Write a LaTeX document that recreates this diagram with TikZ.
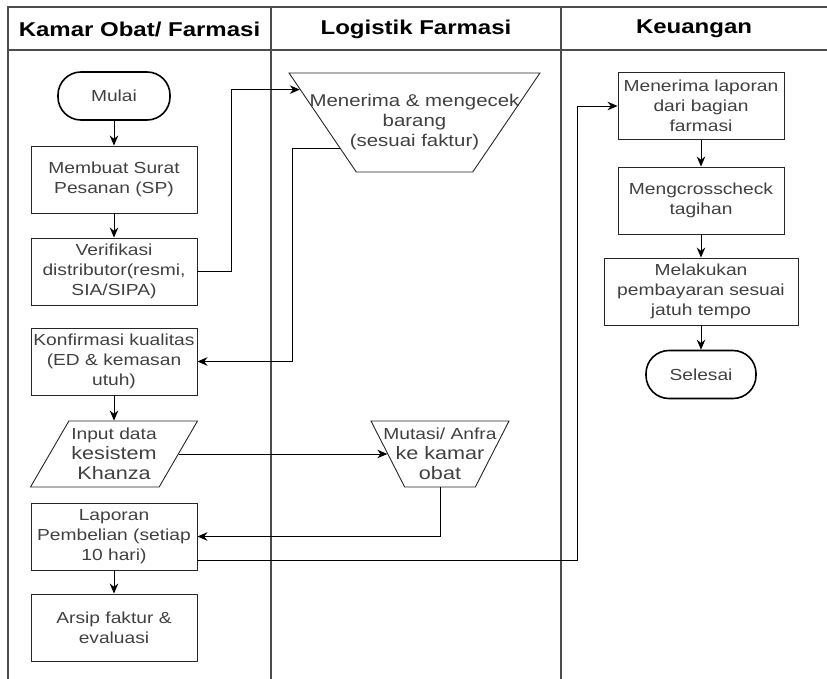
\documentclass[tikz,border=0pt]{standalone}
\usepackage{fontspec}
\setmainfont{Liberation Sans}[FakeStretch=1.2]
\usetikzlibrary{shapes.geometric,arrows.meta}

\begin{document}
\begin{tikzpicture}
[x=1pt,y=-1pt,%
  every node/.style={font=\fontsize{16pt}{20pt}\selectfont},%
  lane/.style={draw=black!70,line width=1.3pt},%
  heading/.style={font=\fontsize{20pt}{24pt}\selectfont\bfseries},%
  proc/.style={draw=black!85,line width=0.9pt,minimum width=166pt,minimum height=67pt,align=center,text=black!75,inner sep=1pt},%
  term/.style={draw,line width=1.6pt,rounded corners=23pt,minimum width=112pt,minimum height=48pt,text=black!75},%
  manop/.style={draw=black!85,line width=0.9pt,trapezium,trapezium stretches=true,shape border rotate=180,inner sep=3pt},%
  inbox/.style={draw=black!85,line width=0.9pt,trapezium,trapezium left angle=67,trapezium right angle=113,trapezium stretches=true,minimum width=167pt,minimum height=66pt,inner sep=3pt},%
  lbl/.style={align=center,text=black!75,inner sep=0pt},%
  arr/.style={-{Stealth[length=10pt,width=8.5pt]},line width=0.9pt}]
\useasboundingbox (0,0) rectangle (827,679);
\draw[lane] (8,679) -- (8,7) -- (827,7);
\draw[lane] (8,50) -- (827,50);
\draw[lane] (271,7) -- (271,679);
\draw[lane] (561,7) -- (561,679);
\node[heading] (hKamar) at (139.5,29) {Kamar Obat/ Farmasi};
\node[heading] (hLogistik) at (416,29) {Logistik Farmasi};
\node[heading] (hKeuangan) at (694,29) {Keuangan};

\node[term] (start) at (114,96) {Mulai};
\node[proc] (sp) at (114,179.5) {Membuat Surat\\Pesanan (SP)};
\node[proc] (verif) at (114,271.5) {Verifikasi\\distributor(resmi,\\SIA/SIPA)};
\node[proc] (kual) at (114,361.5) {Konfirmasi kualitas\\(ED \& kemasan\\utuh)};
\node[inbox,label={[lbl,font=\fontsize{18pt}{20pt}\selectfont]center:{{\fontsize{16pt}{20pt}\selectfont Input data}\\kesistem\\Khanza}}] (input) at (114,454) {};
\node[proc] (lapor) at (114,536.5) {Laporan\\Pembelian (setiap\\10 hari)};
\node[proc] (arsip) at (114,627.5) {Arsip faktur \&\\evaluasi};

\node[manop,trapezium angle=60,minimum width=251pt,minimum height=99pt,label={[lbl,font=\fontsize{17pt}{20pt}\selectfont]center:{Menerima \& mengecek\\barang\\(sesuai faktur)}}] (terima) at (414.5,122.5) {};
\node[manop,trapezium angle=64.5,minimum width=138pt,minimum height=66pt,label={[lbl,font=\fontsize{18pt}{20pt}\selectfont]center:{{\fontsize{16pt}{20pt}\selectfont Mutasi/ Anfra}\\ke kamar\\obat}}] (mutasi) at (440,454) {};

\node[proc] (lapterima) at (701,106) {Menerima laporan\\dari bagian\\farmasi};
\node[proc] (cek) at (701,200.5) {Mengcrosscheck\\tagihan};
\node[proc,minimum width=194pt] (bayar) at (701,291.5) {Melakukan\\pembayaran sesuai\\jatuh tempo};
\node[term,minimum width=110pt] (selesai) at (701,374.5) {Selesai};

\draw[arr] (start) -- (sp);
\draw[arr] (sp) -- (verif);
\draw[arr] (verif.east) -- ++(34,0) |- (terima.164);
\draw[arr] (terima.199) -- ++(-47,0) |- (kual);
\draw[arr] (kual) -- (input);
\draw[arr] (input) -- (mutasi);
\draw[arr] (mutasi.270) |- (lapor);
\draw[arr] (lapor) -- (arsip);
\draw[arr] ([yshift=-24pt]lapor.east) -- ++(380,0) |- (lapterima);
\draw[arr] (lapterima) -- (cek);
\draw[arr] (cek) -- (bayar);
\draw[arr] (bayar) -- (selesai);
\end{tikzpicture}
\end{document}
